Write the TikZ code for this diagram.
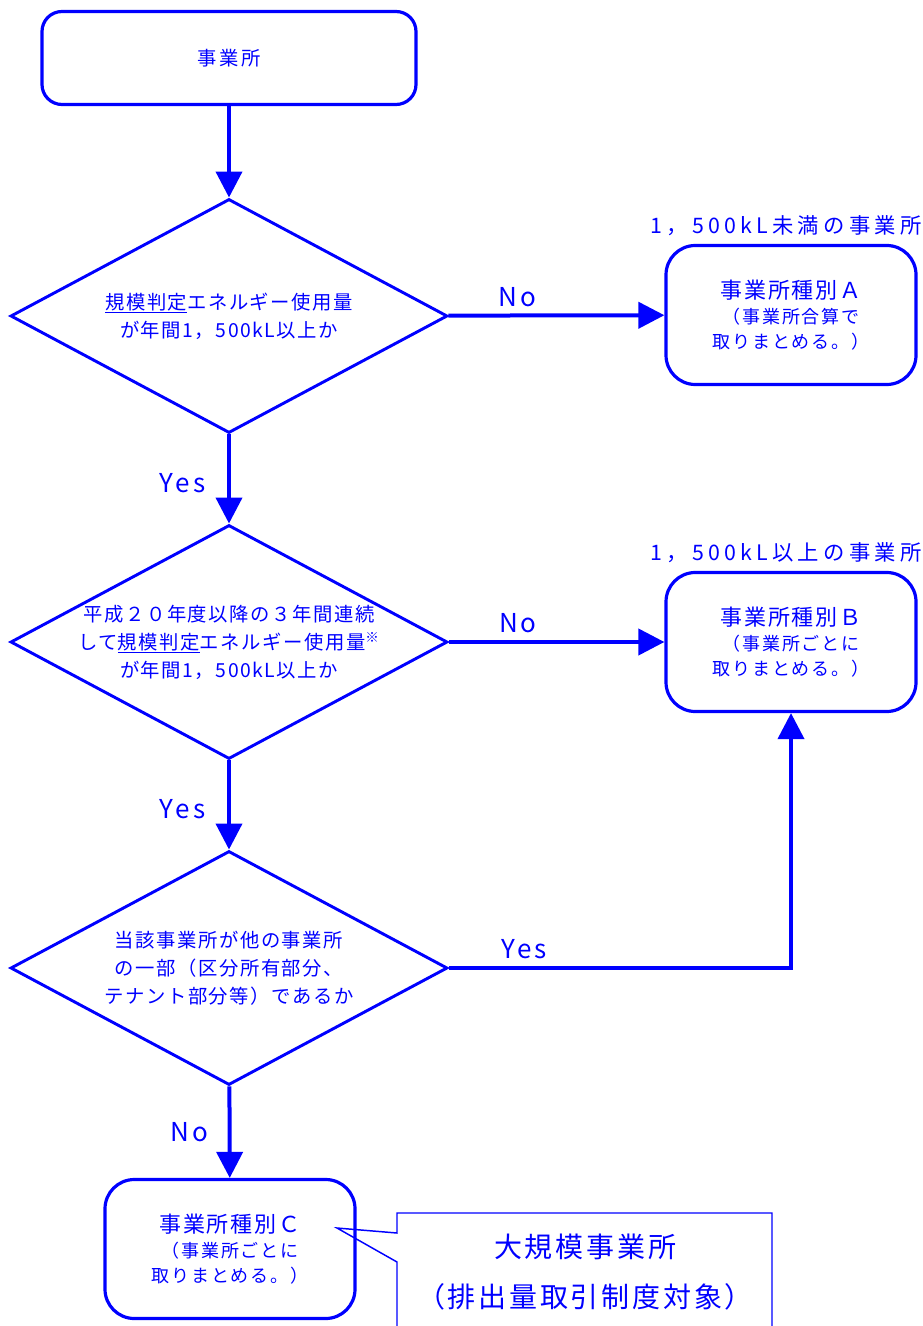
\documentclass[tikz,border=0pt]{standalone}
\usepackage{fontspec}
\setmainfont{Noto Sans CJK JP}
\usetikzlibrary{shapes.geometric,arrows.meta,positioning}
\newcommand{\jpfont}[3]{\fontsize{#1}{#2}\selectfont\addfontfeature{LetterSpace=#3}}
\tikzset{every node/.style={font=\jpfont{14.5}{21}{8},text=blue}}
\tikzset{startbox/.style={draw=blue,line width=2.4pt,rounded corners=15pt,minimum width=280.5pt,minimum height=69.75pt,font=\jpfont{14.5}{16}{13}}}
\tikzset{kindbox/.style={draw=blue,line width=2.4pt,rounded corners=22pt,minimum width=187.5pt,minimum height=104.25pt,align=center,font=\jpfont{13.5}{19}{10}}}
\tikzset{decision/.style={diamond,aspect=1.87,draw=blue,line width=2.2pt,minimum width=327.75pt,minimum height=175.5pt,inner sep=-6pt,align=center}}
\tikzset{flow/.style={draw=blue,line width=3pt,-{Triangle[length=19.5pt,width=19.5pt]}}}
\tikzset{answer/.style={font=\jpfont{19.5}{20}{12}}}
\tikzset{toplabel/.style={font=\jpfont{16}{18}{20}}}
\tikzset{note/.style={draw=blue,line width=1.1pt}}
\newcommand{\kindtitle}[1]{{\jpfont{16.5}{20}{9}#1}}

\begin{document}
\begin{tikzpicture}[x=0.75pt,y=-0.75pt]
\useasboundingbox (0,0) rectangle (923,1326);
\node[startbox] (site) at (229,58) {事業所};
\node[decision] (size) at (229,316) {\underline{規模判定}エネルギー使用量\\が年間1，500kL以上か};
\node[decision] (three) at (229,642) {平成２０年度以降の３年間連続\\して\underline{規模判定}エネルギー使用量\textsuperscript{※}\\が年間1，500kL以上か};
\node[decision] (part) at (229,968) {当該事業所が他の事業所\\の一部（区分所有部分、\\テナント部分等）であるか};
\node[kindbox] (kindA) at (791,315) {\kindtitle{事業所種別Ａ}\\（事業所合算で\\取りまとめる。）};
\node[kindbox] (kindB) at (791,642) {\kindtitle{事業所種別Ｂ}\\（事業所ごとに\\取りまとめる。）};
\node[kindbox] (kindC) at (230,1249) {\kindtitle{事業所種別Ｃ}\\（事業所ごとに\\取りまとめる。）};
\node[toplabel] (under) at (786,226) {1，500kL未満の事業所};
\node[toplabel] (over) at (786,553) {1，500kL以上の事業所};
\draw[flow] (site) -- (size);
\draw[flow] (size) -- node[answer,above=2pt,pos=0.32] (no1) {No} (kindA);
\draw[flow] (size) -- node[answer,left=13pt,pos=0.55] (yes1) {Yes} (three);
\draw[flow] (three) -- node[answer,above=2pt,pos=0.32] (no2) {No} (kindB);
\draw[flow] (three) -- node[answer,left=13pt,pos=0.55] (yes2) {Yes} (part);
\draw[flow] (part.east) -| node[answer,above=2pt,pos=0.11] (yes3) {Yes} (kindB.south);
\draw[flow] (part) -- node[answer,left=11pt] (no3) {No} (kindC);
\coordinate (tip) at (337,1228);
\draw[note] (397,1345) -- (397,1262) -- (tip) -- (397,1233) -- (397,1213) -- (772,1213) -- (772,1345);
\node[font=\jpfont{21}{37}{10},align=center] (large) at (585,1272) {大規模事業所\\（排出量取引制度対象）};
\end{tikzpicture}
\end{document}
